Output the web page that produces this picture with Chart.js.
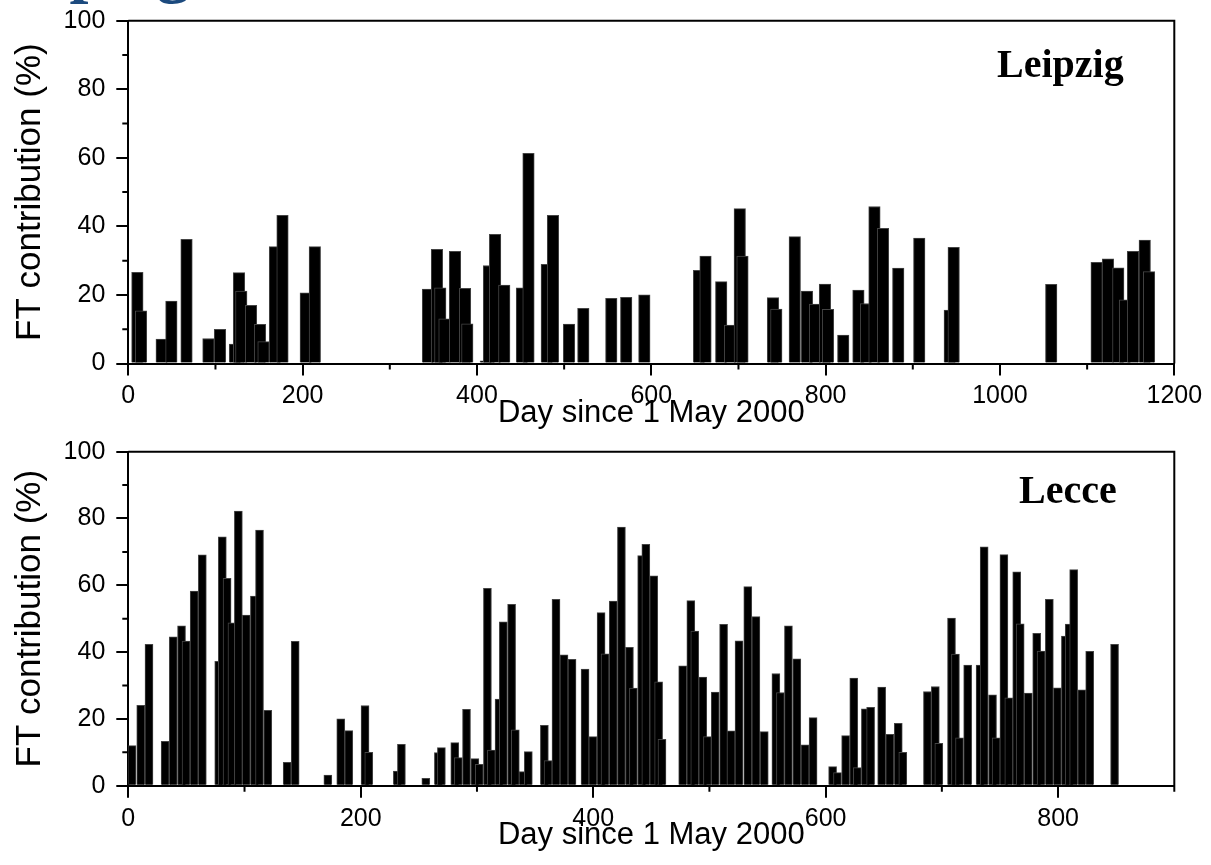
<!DOCTYPE html>
<html>
<head>
<meta charset="utf-8">
<script src="https://cdn.jsdelivr.net/npm/chart.js@4.4.0/dist/chart.umd.min.js"></script>
<style>
  html, body { margin: 0; padding: 0; background: #fff; width: 1211px; height: 865px; overflow: hidden; position: relative; }
  canvas { position: absolute; left: 0; }
  #c1 { top: 0; }
  #c2 { top: 432px; }
  .site { position: absolute; font: bold 40px 'Liberation Serif', 'Times New Roman', serif; line-height: 40px; color: #000; white-space: nowrap; }
  #head { position: absolute; left: -25px; top: -67px; font: bold 68px 'Liberation Serif', serif; line-height: 68px; color: #1c4a7e; white-space: nowrap; }
</style>
</head>
<body>
<div id="head">Leipzig</div>
<canvas id="c1" width="1211" height="432"></canvas>
<canvas id="c2" width="1211" height="433"></canvas>
<div class="site" style="left:997px; top:43.5px">Leipzig</div>
<div class="site" style="left:1019px; top:470px">Lecce</div>
<script>
// Leipzig - dia desde 1 maio 2000 / contribuicao FT (%)
const diasLeipzig = [10.4, 14.6, 38.3, 49.4, 66.8, 91.9, 105.2, 122.4, 127, 129.6, 140.8, 151.1, 155.1, 168.3, 176.9, 203.6, 214,
  343.8, 354.1, 357.9, 362.7, 374.8, 386.3, 388.9, 410.1, 413.8, 420.8, 431.3, 451.6, 459.1, 480.1, 487.2, 505.6, 522, 554.1, 571.2, 592,
  654.8, 662.2, 680.2, 690.3, 701.5, 704.6, 739.6, 743.4, 764.6, 778.6, 787.8, 799.2, 802.7, 820.2, 837.6, 846.3, 856, 865.8, 883.3, 907.4,
  942.4, 946.9, 1058.8, 1110.9, 1123.9, 1135.7, 1143.4, 1152.6, 1166.1, 1171];
const ftLeipzig = [26.6, 15.4, 7.1, 18.2, 36.2, 7.3, 10.0, 5.7, 26.5, 21.1, 17.0, 11.4, 6.4, 34.1, 43.2, 20.6, 34.1,
  21.7, 33.3, 22.1, 13.0, 32.7, 21.9, 11.6, 0.8, 28.6, 37.7, 22.9, 22.1, 61.3, 28.9, 43.2, 11.5, 16.1, 19.0, 19.3, 20.0,
  27.2, 31.3, 23.9, 11.2, 45.2, 31.3, 19.2, 15.9, 37.0, 21.1, 17.3, 23.2, 15.8, 8.3, 21.4, 17.5, 45.8, 39.4, 27.8, 36.6,
  15.6, 33.9, 23.1, 29.5, 30.5, 27.9, 18.6, 32.7, 36.0, 26.8];

// Lecce
const diasLecce = [3.2, 10.7, 17.8, 31.7, 38.7, 45.8, 49.7, 56.7, 63.7, 77.8, 80.9, 85, 89.2, 94.7, 101.5, 108.5, 112.9, 120,
  136.7, 143.6, 171.7, 182.8, 189.7, 203.7, 206.9, 231.5, 235, 256, 266.8, 269.4, 280.9, 284, 291, 298.2, 302, 309, 312.4, 319,
  322.7, 329.8, 333, 339.7, 344.2, 358, 361.2, 368, 374.9, 381.8, 393, 399.7, 406.8, 410.2, 417.3, 424.3, 431.2, 434.6, 441.7,
  445.3, 452.1, 456.3, 459.2, 477, 484, 487.4, 494.3, 498.3, 505, 512.2, 518.6, 525.5, 533, 540, 547.2, 557.2, 561.1, 568,
  575.2, 582.3, 589.2, 606, 610.2, 617.2, 624.2, 627.3, 634.2, 638.7, 648.2, 655.2, 662.5, 666.4, 687.6, 694.4, 697.4, 708.3,
  711.7, 715.2, 722.2, 732.9, 736.4, 743.6, 746.7, 753.4, 757.6, 764.4, 767.4, 774.4, 781.6, 785.4, 792.5, 799.4, 806.3, 809.6,
  813.4, 820.4, 827.2, 848.6];
const ftLecce = [12.0, 24.1, 42.3, 13.3, 44.6, 47.9, 43.3, 58.3, 69.1, 37.2, 74.5, 62.1, 48.8, 82.2, 51.1, 56.8, 76.5, 22.6,
  7.0, 43.2, 3.2, 20.0, 16.5, 24.0, 10.0, 4.4, 12.4, 2.2, 9.9, 11.4, 12.9, 8.4, 22.9, 8.1, 6.4, 59.1, 10.7, 25.9,
  49.1, 54.3, 16.7, 4.2, 10.2, 18.1, 7.5, 55.8, 39.2, 37.8, 34.9, 14.7, 51.8, 39.5, 55.3, 77.4, 41.4, 29.2, 68.9,
  72.3, 62.8, 31.1, 13.9, 35.9, 55.4, 46.3, 32.5, 14.7, 28.0, 48.3, 16.4, 43.4, 59.6, 50.6, 16.2, 33.6, 27.9, 47.9,
  38.0, 12.2, 20.4, 5.7, 3.9, 15.0, 32.2, 5.4, 23.0, 23.5, 29.5, 15.4, 18.7, 10.0, 28.2, 29.7, 12.7, 50.2,
  39.4, 14.3, 36.1, 36.1, 71.5, 27.2, 14.3, 69.2, 26.3, 64.0, 48.5, 27.7, 45.6, 40.3, 55.8, 29.3, 44.8, 48.4,
  64.7, 28.7, 40.2, 42.3];

const ticksY = [0, 20, 40, 60, 80, 100];
const ticksXLeipzig = [0, 200, 400, 600, 800, 1000, 1200];
const ticksXLecce = [0, 200, 400, 600, 800];

Chart.defaults.font.family = "'Liberation Sans', Arial, sans-serif";
Chart.defaults.color = '#000';

// moldura de cima/direita e ticks menores
const moldura = {
  id: 'moldura',
  afterDraw(chart, args, opts) {
    const ctx = chart.ctx;
    const a = chart.chartArea;
    const x = chart.scales.x, y = chart.scales.y;
    ctx.save();
    ctx.strokeStyle = '#000';
    ctx.lineWidth = 2;
    ctx.beginPath();
    x.ticks.forEach(t => {
      if (opts.xMajor.includes(t.value)) return;
      const px = x.getPixelForValue(t.value);
      ctx.moveTo(px, a.bottom);
      ctx.lineTo(px, a.bottom + 6);
    });
    y.ticks.forEach(t => {
      if (ticksY.includes(t.value)) return;
      const py = y.getPixelForValue(t.value);
      ctx.moveTo(a.left, py);
      ctx.lineTo(a.left - 6, py);
    });
    ctx.moveTo(a.left, a.top);
    ctx.lineTo(a.right, a.top);
    ctx.lineTo(a.right, a.bottom);
    ctx.stroke();
    ctx.restore();
  }
};

// tira o padding automatico das escalas para a area do grafico ficar fixa
function semPadding(s) {
  s.paddingTop = 0;
  s.paddingBottom = 0;
  s.paddingLeft = 0;
  s.paddingRight = 0;
}

function criarGrafico(id, dias, valores, xMax, xMajor, larguraBarra, caixa) {
  return new Chart(document.getElementById(id), {
    type: 'bar',
    data: {
      datasets: [{
        data: dias.map((d, i) => ({ x: d, y: valores[i] })),
        backgroundColor: '#000',
        borderColor: '#444',
        borderWidth: 1,
        barThickness: larguraBarra
      }]
    },
    options: {
      responsive: false,
      animation: false,
      layout: { autoPadding: false, padding: { top: caixa.top, right: 36.7, left: 0, bottom: 0 } },
      plugins: {
        legend: { display: false },
        tooltip: { enabled: false },
        moldura: { xMajor: xMajor }
      },
      scales: {
        x: {
          type: 'linear',
          min: 0,
          max: xMax,
          offset: false,
          afterFit: s => { s.height = caixa.xHeight; semPadding(s); },
          ticks: {
            stepSize: 100,
            autoSkip: false,
            maxRotation: 0,
            includeBounds: false,
            padding: 6,
            font: { size: 25 },
            callback: v => xMajor.includes(v) ? String(v) : ''
          },
          grid: {
            offset: false,
            drawOnChartArea: false,
            tickLength: 12,
            lineWidth: 2,
            color: '#000',
            tickColor: c => (c.tick && xMajor.includes(c.tick.value)) ? '#000' : 'rgba(0,0,0,0)'
          },
          border: { display: true, color: '#000', width: 2 },
          title: {
            display: true,
            text: 'Day since 1 May 2000',
            font: { size: 31 },
            padding: { top: 0, bottom: caixa.titlePad }
          }
        },
        y: {
          min: 0,
          max: 100,
          afterFit: s => { s.width = 128.3; semPadding(s); },
          ticks: {
            stepSize: 10,
            autoSkip: false,
            padding: 11,
            font: { size: 25 },
            callback: v => ticksY.includes(v) ? String(v) : ''
          },
          grid: {
            drawOnChartArea: false,
            tickLength: 12,
            lineWidth: 2,
            color: '#000',
            tickColor: c => (c.tick && ticksY.includes(c.tick.value)) ? '#000' : 'rgba(0,0,0,0)'
          },
          border: { display: true, color: '#000', width: 2 },
          title: {
            display: true,
            text: 'FT contribution (%)',
            font: { size: 35 },
            padding: { top: 9.2, bottom: 0 }
          }
        }
      }
    },
    plugins: [moldura]
  });
}

criarGrafico('c1', diasLeipzig, ftLeipzig, 1200, ticksXLeipzig, 11.5, { top: 20.7, xHeight: 68.5, titlePad: 0 });
criarGrafico('c2', diasLecce, ftLecce, 900, ticksXLecce, 8, { top: 19.7, xHeight: 79.3, titlePad: 11 });
</script>
</body>
</html>
